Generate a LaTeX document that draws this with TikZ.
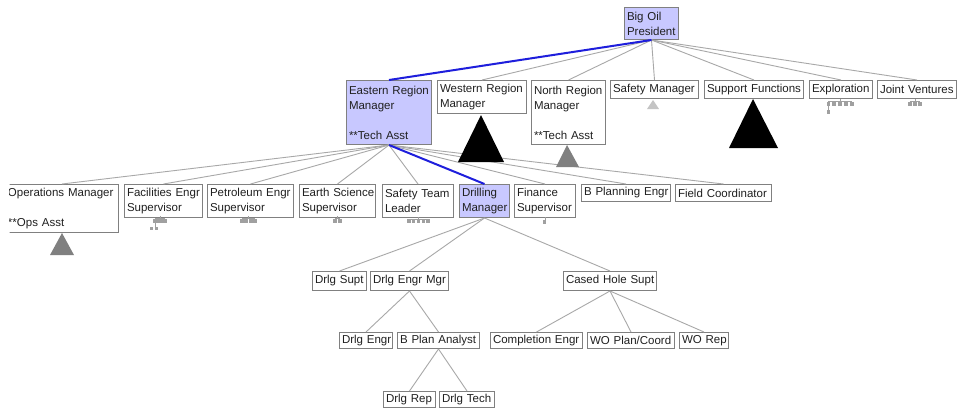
\documentclass[tikz,border=0pt]{standalone}
\usepackage{fontspec}
\setmainfont{Liberation Sans}
\definecolor{lav}{HTML}{C8C8FF}
\definecolor{edgegray}{HTML}{A8A8A8}
\definecolor{boxgray}{HTML}{808080}
\definecolor{hiblue}{HTML}{1E1EDC}
\definecolor{txt}{HTML}{202020}
\definecolor{tri}{HTML}{808080}
\definecolor{trilight}{HTML}{C4C4C4}
\definecolor{icon}{HTML}{A0A0A0}
\tikzset{
 orgbox/.style={draw=boxgray, line width=1pt, rectangle, anchor=north west, inner xsep=2.5pt, inner ysep=0pt, align=left, text=txt, font=\fontsize{11.5}{15}\selectfont},
 link/.style={draw=edgegray, line width=0.9pt},
 hilink/.style={draw=hiblue, line width=2pt},
}
\newcommand\bx[7][white]{%
 \pgfmathsetmacro\bw{#5-#3}%
 \pgfmathsetmacro\bh{#6-#4}%
 \pgfmathsetmacro\tw{#5-#3-5}%
 \node[orgbox, fill=#1, minimum width=\bw pt, minimum height=\bh pt, text width=\tw pt] (#2) at (#3,#4) {#7};}
\newcommand\mini[4]{%
 \pgfmathsetmacro\mstep{(#4-3.6)/max(#3-1,1)}%
 \foreach \k in {1,...,#3}{\fill[icon] ({#1+(\k-1)*\mstep},#2) rectangle ++(3.6,3.6);}%
 \draw[icon, line width=0.4pt] ({#1+1.8},{#2-0.4}) -- ({#1+#4-1.8},{#2-0.4});%
 \draw[icon, line width=0.4pt] ({#1+#4/2},{#2-0.4}) -- ({#1+#4/2},{#2-2.6});}
\begin{document}
\begin{tikzpicture}[x=1pt,y=-1pt]
\useasboundingbox (0,0) rectangle (959,410);
\fill[white] (0,0) rectangle (959,410);
\clip (9.5,0) rectangle (959,410);
% level 0
\bx[lav]{bigoil}{624}{7}{678}{39}{\mbox{Big Oil}\\\mbox{President}}
% level 1
\bx[lav]{eastern}{346}{80}{431}{144}{\mbox{Eastern Region}\\\mbox{Manager}\\\mbox{}\\\mbox{**Tech Asst}}
\bx{western}{437}{80}{526}{113}{\mbox{Western Region}\\\mbox{Manager}}
\bx{north}{531}{80}{605}{144}{\mbox{North Region}\\\mbox{Manager}\\\mbox{}\\\mbox{**Tech Asst}}
\bx{safety}{610}{80}{698}{98}{\mbox{Safety Manager}}
\bx{support}{704}{80}{803}{98}{\mbox{Support Functions}}
\bx{explor}{809}{80}{872}{98}{\mbox{Exploration}}
\bx{joint}{877}{80}{956}{98}{\mbox{Joint Ventures}}
% level 2
\bx{ops}{5}{184}{118}{232}{\mbox{Operations Manager}\\\mbox{}\\\mbox{**Ops Asst}}
\bx{facil}{124}{184}{202}{217}{\mbox{Facilities Engr}\\\mbox{Supervisor}}
\bx{petro}{207}{184}{293}{217}{\mbox{Petroleum Engr}\\\mbox{Supervisor}}
\bx{earth}{299}{184}{375}{217}{\mbox{Earth Science}\\\mbox{Supervisor}}
\bx{steam}{382}{184}{453}{217}{\mbox{Safety Team}\\\mbox{Leader}}
\bx[lav]{drill}{459}{184}{509}{217}{\mbox{Drilling}\\\mbox{Manager}}
\bx{finance}{514}{184}{575}{217}{\mbox{Finance}\\\mbox{Supervisor}}
\bx{bplan}{581}{184}{670}{201}{\mbox{B Planning Engr}}
\bx{field}{675}{184}{771}{201}{\mbox{Field Coordinator}}
% level 3
\bx{dsupt}{312}{271}{366}{290}{\mbox{Drlg Supt}}
\bx{demgr}{370}{271}{448}{290}{\mbox{Drlg Engr Mgr}}
\bx{cased}{563}{271}{656}{290}{\mbox{Cased Hole Supt}}
% level 4
\bx{dengr}{339}{332}{392}{348}{\mbox{Drlg Engr}}
\bx{bpa}{397}{332}{479}{348}{\mbox{B Plan Analyst}}
\bx{compl}{490}{332}{582}{348}{\mbox{Completion Engr}}
\bx{wopc}{587}{332}{674}{348}{\mbox{WO Plan/Coord}}
\bx{worep}{679}{332}{728}{348}{\mbox{WO Rep}}
% level 5
\bx{drep}{383}{391}{435}{407}{\mbox{Drlg Rep}}
\bx{dtech}{439}{391}{494}{407}{\mbox{Drlg Tech}}
% connectors
\foreach \c in {western,north,safety,support,explor,joint}
  \draw[link] (bigoil.south) -- (\c.north);
\draw[hilink] (bigoil.south) -- (eastern.north);
\foreach \c in {ops,facil,petro,earth,steam,finance,bplan,field}
  \draw[link] (eastern.south) -- (\c.north);
\draw[hilink] (eastern.south) -- (drill.north);
\foreach \c in {dsupt,demgr,cased}
  \draw[link] (drill.south) -- (\c.north);
\foreach \c in {dengr,bpa}
  \draw[link] (demgr.south) -- (\c.north);
\foreach \c in {compl,wopc,worep}
  \draw[link] (cased.south) -- (\c.north);
\foreach \c in {drep,dtech}
  \draw[link] (bpa.south) -- (\c.north);
% collapsed-subtree markers
\fill[black] (481,115) -- (458,162) -- (504,162) -- cycle;
\fill[tri] (567,145) -- (556,167) -- (579,167) -- cycle;
\fill[trilight] (653,100) -- (647,109) -- (659,109) -- cycle;
\fill[black] (753,99) -- (729,148) -- (778,148) -- cycle;
\fill[tri] (62,233) -- (50,255) -- (74,255) -- cycle;
% mini org icons
\mini{826.5}{102}{5}{27}
\draw[icon, line width=0.4pt] (828.3,105) -- (828.3,110);
\fill[icon] (826.5,110) rectangle ++(3.6,3.6);
\mini{908}{102}{3}{14}
\mini{153}{219}{4}{14}
\draw[icon, line width=0.4pt] (154.8,222) -- (154.8,227);
\fill[icon] (150,227) rectangle ++(3.4,3.4);
\fill[icon] (154.5,227) rectangle ++(3.4,3.4);
\mini{240}{219}{4}{17}
\mini{333}{219}{2}{9}
\mini{407}{219.3}{5}{23}
\fill[icon] (543,220) rectangle ++(3.4,3.6);
\draw[icon, line width=0.4pt] (544.7,217) -- (544.7,220);
\end{tikzpicture}
\end{document}
